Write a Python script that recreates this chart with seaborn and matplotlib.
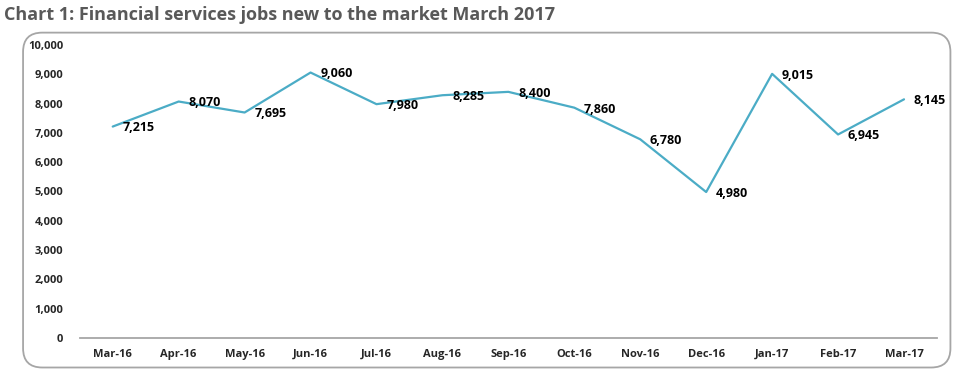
import pandas as pd
import matplotlib.pyplot as plt
import seaborn as sns
import matplotlib.ticker as ticker
from matplotlib.patches import FancyBboxPatch

# 数据
months = ['Mar-16', 'Apr-16', 'May-16', 'Jun-16', 'Jul-16', 'Aug-16', 'Sep-16',
          'Oct-16', 'Nov-16', 'Dec-16', 'Jan-17', 'Feb-17', 'Mar-17']
jobs = [7215, 8070, 7695, 9060, 7980, 8285, 8400, 7860, 6780, 4980, 9015, 6945, 8145]

df = pd.DataFrame({'Month': months, 'Jobs': jobs})

sns.set_style('white')
plt.rcParams['font.family'] = ['Open Sans', 'DejaVu Sans']

fig = plt.figure(figsize=(9.61, 3.75), dpi=100)
ax = fig.add_axes([0.083, 0.099, 0.892, 0.781])

# 圆角外框
frame = FancyBboxPatch((0.024, 0.02), 0.965, 0.893, boxstyle='round,pad=0,rounding_size=0.02',
                       transform=fig.transFigure, fill=False, edgecolor='#a6a6a6', linewidth=1.3,
                       mutation_aspect=961 / 375)
fig.patches.append(frame)

sns.lineplot(x='Month', y='Jobs', data=df, ax=ax, color='#4bacc6', linewidth=1.6, sort=False)

for i, v in enumerate(jobs):
    ax.annotate(f'{v:,}', (i, v), xytext=(7, -1), textcoords='offset points',
                ha='left', va='center', fontsize=9, fontweight='bold', color='black')

ax.set_xlim(-0.5, len(months) - 0.5)
ax.set_ylim(0, 10000)
ax.yaxis.set_major_locator(ticker.MultipleLocator(1000))
ax.yaxis.set_major_formatter(ticker.FuncFormatter(lambda v, p: f'{int(v):,}'))

# x 轴刻度在类别边界
ax.set_xticks([i - 0.5 for i in range(len(months) + 1)])
ax.set_xticklabels([])
ax.set_xticks(range(len(months)), minor=True)
ax.set_xticklabels(months, minor=True)
ax.tick_params(axis='x', which='major', length=5, width=1, color='#a6a6a6', direction='inout')
ax.tick_params(axis='x', which='minor', length=0, pad=8, labelsize=8, colors='#262626')
for lab in ax.get_xticklabels(minor=True):
    lab.set_fontweight('bold')
ax.tick_params(axis='y', length=0, pad=12, labelsize=8)
for lab in ax.get_yticklabels():
    lab.set_fontweight('bold')

ax.set_xlabel('')
ax.set_ylabel('')
for s in ['top', 'right', 'left']:
    ax.spines[s].set_visible(False)
ax.spines['bottom'].set_color('#a6a6a6')
ax.spines['bottom'].set_linewidth(1.3)

fig.text(0.004, 0.935, 'Chart 1: Financial services jobs new to the market March 2017',
         fontsize=13, fontweight='bold', color='#595959', ha='left', va='bottom')

fig.savefig('out.png', dpi=100)
